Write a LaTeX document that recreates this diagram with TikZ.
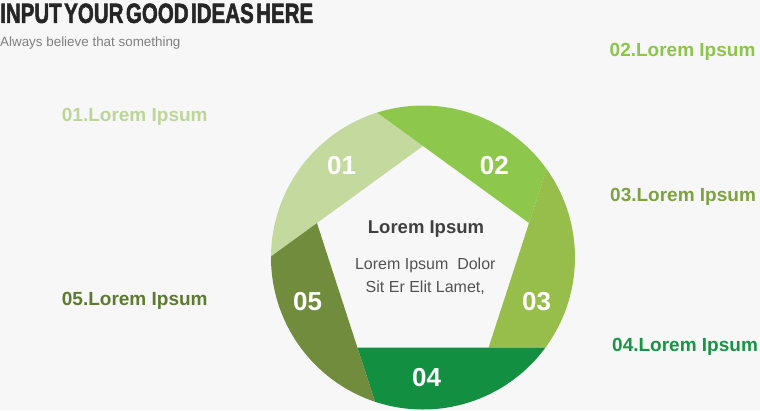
\documentclass[tikz,border=0pt]{standalone}
\usepackage{fontspec}
\usepackage{graphicx}
\setmainfont{Liberation Sans}
\newfontfamily\titlefont[FakeBold=2.2]{Liberation Sans Bold}
\definecolor{bgc}{HTML}{F7F7F7}
\definecolor{segA}{HTML}{C4D99D}
\definecolor{segB}{HTML}{8DC84C}
\definecolor{segC}{HTML}{97BD4B}
\definecolor{segD}{HTML}{138F41}
\definecolor{segE}{HTML}{728C3D}
\definecolor{labA}{HTML}{BDD698}
\definecolor{labB}{HTML}{8BC54A}
\definecolor{labC}{HTML}{7DA23F}
\definecolor{labD}{HTML}{199446}
\definecolor{labE}{HTML}{5D7B30}
\definecolor{darktext}{HTML}{404040}
\definecolor{titletext}{HTML}{262626}
\definecolor{subgray}{HTML}{808080}
\tikzset{
  seglabel/.style={anchor=base west, inner sep=0pt, font=\fontsize{19}{22}\selectfont\bfseries},
  segnum/.style={inner sep=0pt, text=white, font=\fontsize{26}{30}\selectfont\bfseries},
}
\newcommand{\segpiece}[2]{%
  \fill[#2] (#1:111.5pt) -- (#1+17.6:152pt) arc[start angle=#1+17.6, end angle=#1+89.6, radius=152pt] -- cycle;}
\begin{document}
\begin{tikzpicture}[x=1pt,y=1pt]
\fill[bgc] (0,0) rectangle (760,-410);
\useasboundingbox (0,0) rectangle (760,-410);

% title
\node[anchor=north west, inner sep=0pt, text=titletext] (title) at (0,-3.3)
  {\resizebox{313pt}{19.4pt}{\titlefont\spaceskip=0.12em INPUT YOUR GOOD IDEAS HERE}};
\node[anchor=base west, inner sep=0pt, text=subgray, font=\fontsize{13.4}{16}\selectfont] (subtitle) at (0,-46.5)
  {Always believe that something};

% ring segments
\begin{scope}[shift={(423,-257.5)}]
  \segpiece{90}{segA}
  \segpiece{18}{segB}
  \segpiece{-54}{segC}
  \segpiece{-126}{segD}
  \segpiece{-198}{segE}
\end{scope}

% numbers
\node[segnum] (n1) at (341.7,-165.7) {01};
\node[segnum] (n2) at (494.3,-165.7) {02};
\node[segnum] (n3) at (536.7,-301.7) {03};
\node[segnum] (n4) at (426.7,-377.7) {04};
\node[segnum] (n5) at (307.7,-301.7) {05};

% centre text
\node[anchor=base, inner sep=0pt, text=darktext, font=\fontsize{18.5}{22}\selectfont\bfseries] (ctitle) at (426,-233.3) {Lorem Ipsum};
\node[anchor=base, inner sep=0pt, text=darktext!90, font=\fontsize{16}{19}\selectfont] (cline1) at (425.3,-269.3) {Lorem Ipsum\ \ Dolor};
\node[anchor=base, inner sep=0pt, text=darktext!90, font=\fontsize{16}{19}\selectfont] (cline2) at (425.3,-292.3) {Sit Er Elit Lamet,};

% side labels
\node[seglabel, text=labA] (l1) at (61.7,-121) {01.Lorem Ipsum};
\node[seglabel, text=labB] (l2) at (609.5,-56) {02.Lorem Ipsum};
\node[seglabel, text=labC] (l3) at (610,-201) {03.Lorem Ipsum};
\node[seglabel, text=labD] (l4) at (612,-351) {04.Lorem Ipsum};
\node[seglabel, text=labE] (l5) at (61.7,-305) {05.Lorem Ipsum};
\end{tikzpicture}
\end{document}
